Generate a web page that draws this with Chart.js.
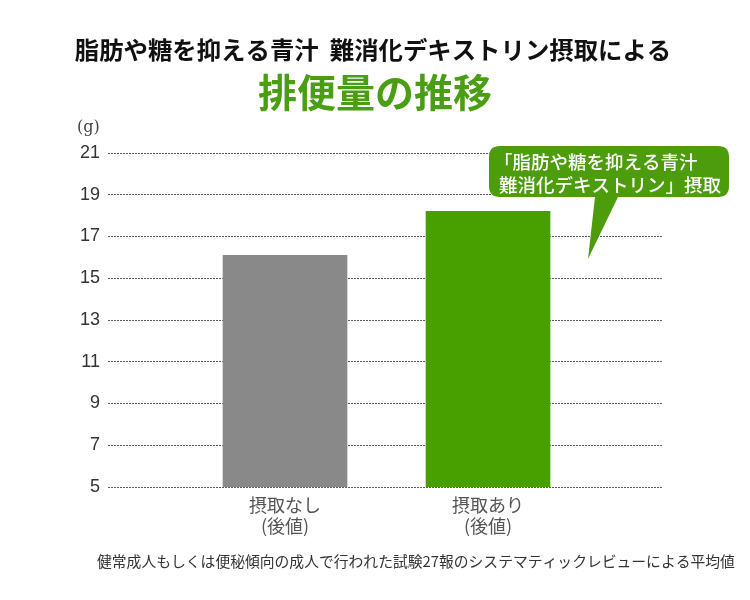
<!DOCTYPE html>
<html>
<head>
<meta charset="utf-8">
<script src="https://cdn.jsdelivr.net/npm/chart.js@4"></script>
<style>
html,body{margin:0;padding:0;background:#fff;}
#wrap{width:750px;height:600px;position:relative;}
</style>
</head>
<body>
<div id="wrap"><canvas id="c" width="750" height="600"></canvas></div>
<script>
const categories = [["摂取なし","(後値)"],["摂取あり","(後値)"]];
const positions = [1, 2];
const values = [16.1, 18.2];
const barColors = ["#898989", "#479f00"];
const yTicks = [5, 7, 9, 11, 13, 15, 17, 19, 21];
const titleLine1 = "脂肪や糖を抑える青汁  難消化デキストリン摂取による";
const titleLine2 = "排便量の推移";
const unitLabel = "(g)";
const calloutLines = ["「脂肪や糖を抑える青汁", "難消化デキストリン」摂取"];
const footnote = "健常成人もしくは便秘傾向の成人で行われた試験27報のシステマティックレビューによる平均値";

const JP = '"Noto Sans CJK JP", "Noto Sans", sans-serif';

const textPlugin = {
  id: 'texts',
  afterDraw(chart) {
    const ctx = chart.ctx;
    ctx.save();
    ctx.textAlign = 'center';
    ctx.textBaseline = 'middle';
    ctx.fillStyle = '#111';
    ctx.font = 'bold 24.4px ' + JP;
    ctx.fillText(titleLine1, 373, 50);
    ctx.fillStyle = '#4a9e12';
    ctx.font = 'bold 39px ' + JP;
    ctx.fillText(titleLine2, 375, 92);
    ctx.fillStyle = '#444';
    ctx.font = '16px "DejaVu Serif", serif';
    ctx.textAlign = 'left';
    ctx.fillText(unitLabel, 77, 128);
    const x0 = 489, y0 = 146, x1 = 729, y1 = 197, r = 11;
    ctx.fillStyle = '#4c9c0c';
    ctx.beginPath();
    ctx.moveTo(x0 + r, y0);
    ctx.lineTo(x1 - r, y0);
    ctx.quadraticCurveTo(x1, y0, x1, y0 + r);
    ctx.lineTo(x1, y1 - r);
    ctx.quadraticCurveTo(x1, y1, x1 - r, y1);
    ctx.lineTo(618, y1);
    ctx.lineTo(588, 259);
    ctx.lineTo(595, y1);
    ctx.lineTo(x0 + r, y1);
    ctx.quadraticCurveTo(x0, y1, x0, y1 - r);
    ctx.lineTo(x0, y0 + r);
    ctx.quadraticCurveTo(x0, y0, x0 + r, y0);
    ctx.closePath();
    ctx.fill();
    ctx.fillStyle = '#fff';
    ctx.font = '500 18.5px ' + JP;
    ctx.textAlign = 'left';
    ctx.fillText(calloutLines[0], 494, 162);
    ctx.fillText(calloutLines[1], 499, 185);
    ctx.fillStyle = '#333';
    ctx.font = '14.8px ' + JP;
    ctx.textAlign = 'left';
    ctx.fillText(footnote, 97, 561);
    ctx.restore();
  }
};

new Chart(document.getElementById('c'), {
  type: 'bar',
  data: {
    datasets: [{
      data: positions.map((p, i) => ({x: p, y: values[i]})),
      backgroundColor: barColors,
      borderWidth: 0,
      barThickness: 124
    }]
  },
  options: {
    responsive: false,
    animation: false,
    events: [],
    layout: { padding: { left: 0, right: 88, top: 153, bottom: 0 } },
    plugins: { legend: { display: false }, tooltip: { enabled: false }, title: { display: false } },
    scales: {
      x: {
        type: 'linear',
        offset: false,
        min: 0.128,
        max: 2.857,
        grid: { display: false, drawTicks: false, offset: false },
        border: { display: false },
        afterBuildTicks(scale) { scale.ticks = positions.map(v => ({value: v})); },
        afterFit(scale) { scale.height = 113; },
        ticks: {
          padding: 7,
          color: '#555',
          font: { family: JP, size: 18, lineHeight: 1.2 },
          callback(v) { const i = positions.indexOf(v); return i >= 0 ? categories[i] : ''; }
        }
      },
      y: {
        min: 5,
        max: 21,
        afterBuildTicks(scale) { scale.ticks = yTicks.map(v => ({value: v})); },
        afterFit(scale) { scale.width = 108; },
        grid: { color: '#5a5a5a', lineWidth: 1, drawTicks: false },
        border: { display: false, dash: [2, 1] },
        ticks: {
          padding: 8,
          color: '#333',
          font: { family: '"Liberation Sans", Arial, sans-serif', size: 18 }
        }
      }
    }
  },
  plugins: [textPlugin]
});
</script>
</body>
</html>
